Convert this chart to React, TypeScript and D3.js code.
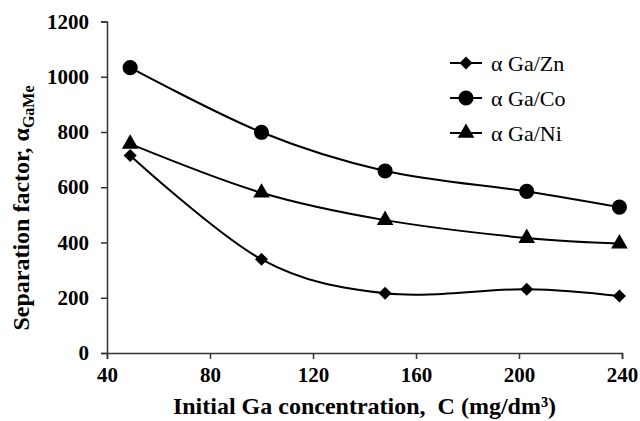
import * as d3 from "d3";
import { useEffect, useRef } from "react";

// initial Ga concentration, mg/dm3
const concentrations = [49, 100, 148, 203, 239];
const gaZn = [715, 339, 216, 231, 206];
const gaCo = [1033, 799, 659, 585, 528];
const gaNi = [757, 580, 481, 416, 396];

const xTicks = [40, 80, 120, 160, 200, 240];
const yTicks = [0, 200, 400, 600, 800, 1000, 1200];

const seriesNames = ["α Ga/Zn", "α Ga/Co", "α Ga/Ni"];

const FONT = "'Liberation Serif', 'Times New Roman', serif";

const App = () => {
  const ref = useRef<SVGSVGElement | null>(null);

  useEffect(() => {
    const svg = d3.select(ref.current);
    svg.selectAll("*").remove();

    const width = 640;
    const height = 421;
    svg.attr("width", width).attr("height", height);

    const x = d3.scaleLinear().domain([40, 240]).range([107, 622]);
    const y = d3.scaleLinear().domain([0, 1200]).range([353, 21.5]);

    // axes
    const xAxis = svg
      .append("g")
      .attr("transform", `translate(0, ${y(0)})`)
      .call(
        d3.axisBottom(x).tickValues(xTicks).tickFormat(d3.format("d"))
          .tickSize(6).tickSizeOuter(6).tickPadding(8)
      );
    const yAxis = svg
      .append("g")
      .attr("transform", `translate(${x(40)}, 0)`)
      .call(
        d3.axisLeft(y).tickValues(yTicks).tickFormat(d3.format("d"))
          .tickSize(6).tickSizeOuter(6).tickPadding(12)
      );

    [xAxis, yAxis].forEach((g) => {
      g.attr("font-family", FONT).attr("font-size", 21);
      g.selectAll("path, line").attr("stroke", "#333").attr("stroke-width", 1.5);
      g.selectAll("text")
        .style("font-family", FONT)
        .style("font-size", "21px")
        .style("font-weight", "bold")
        .attr("fill", "#000");
    });

    // series
    const series = [gaZn, gaCo, gaNi];
    const symbols = [d3.symbolSquare, d3.symbolCircle, d3.symbolTriangle];
    const sizes = [85, 180, 120];
    const rotations = [45, 0, 0];

    const line = d3
      .line<number>()
      .x((_, i) => x(concentrations[i]))
      .y((d) => y(d))
      .curve(d3.curveCardinal.tension(0));

    series.forEach((values, s) => {
      svg
        .append("path")
        .datum(values)
        .attr("d", line)
        .attr("fill", "none")
        .attr("stroke", "#000")
        .attr("stroke-width", 2);

      svg
        .append("g")
        .selectAll("path")
        .data(values)
        .enter()
        .append("path")
        .attr("d", d3.symbol().type(symbols[s]).size(sizes[s])())
        .attr(
          "transform",
          (d, i) => `translate(${x(concentrations[i])}, ${y(d)}) rotate(${rotations[s]})`
        )
        .attr("fill", "#000");
    });

    // legend
    const legend = svg.append("g").attr("transform", "translate(450, 63)");
    seriesNames.forEach((name, s) => {
      const row = legend.append("g").attr("transform", `translate(0, ${s * 35})`);
      row
        .append("line")
        .attr("x1", 0)
        .attr("x2", 32)
        .attr("stroke", "#000")
        .attr("stroke-width", 2);
      row
        .append("path")
        .attr("d", d3.symbol().type(symbols[s]).size(sizes[s])())
        .attr("transform", `translate(16, 0) rotate(${rotations[s]})`)
        .attr("fill", "#000");
      row
        .append("text")
        .attr("x", 41)
        .attr("dy", "0.35em")
        .style("font-family", FONT)
        .style("font-size", "22px")
        .text(name);
    });

    // axis titles
    svg
      .append("text")
      .attr("x", (x(40) + x(240)) / 2)
      .attr("y", 414)
      .attr("text-anchor", "middle")
      .style("font-family", FONT)
      .style("font-size", "24px")
      .style("font-weight", "bold")
      .style("white-space", "pre")
      .text("Initial Ga concentration,  C (mg/dm³)");

    const yTitle = svg
      .append("text")
      .attr("transform", `translate(29, 208) rotate(-90)`)
      .attr("text-anchor", "middle")
      .style("font-family", FONT)
      .style("font-size", "24px")
      .style("font-weight", "bold");
    yTitle.append("tspan").text("Separation factor, α");
    yTitle.append("tspan").attr("dy", 5).style("font-size", "16px").text("GaMe");
  }, []);

  return <svg ref={ref} style={{ position: "absolute", left: 0, top: 0 }}></svg>;
};

export default App;
